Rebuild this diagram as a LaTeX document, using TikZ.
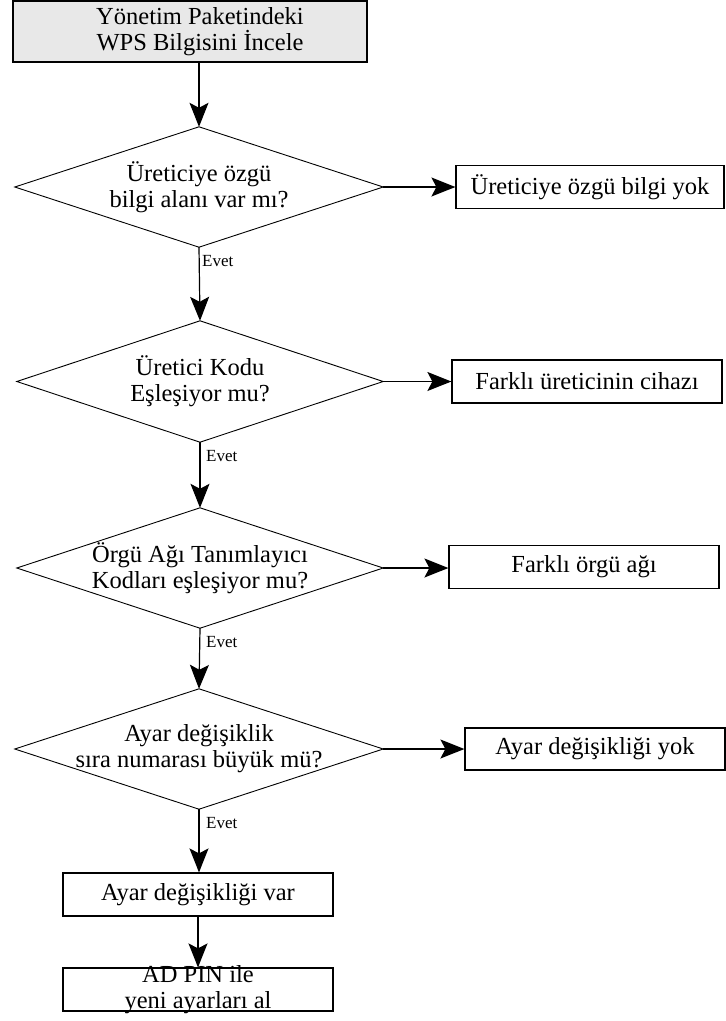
\documentclass[tikz,border=0pt]{standalone}
\usepackage{fontspec}
\setmainfont{Liberation Serif}
\usetikzlibrary{arrows.meta}
\definecolor{boxgray}{RGB}{232,232,232}
\begin{document}
\begin{tikzpicture}[x=1pt,y=-1pt,
  txt/.style={font=\fontsize{24.5}{26}\selectfont, align=center, inner sep=0pt},
  box/.style={txt, draw, line width=1.2pt, minimum height=43pt},
  decision/.style={txt, minimum width=368pt, minimum height=120pt},
  arr/.style={line width=1.2pt, -{Stealth[length=24pt,width=19pt,inset=5pt]}},
  evet/.style={font=\fontsize{17}{17}\selectfont, inner sep=0pt, anchor=base west}]
\useasboundingbox (0,0) rectangle (726,1021);

% start box
\node[box, fill=boxgray, minimum width=354pt, minimum height=61pt] (tb) at (190,31.5) {};
\node[txt] (tbt) at (200,32) {Yönetim Paketindeki\\WPS Bilgisini İncele};

% decisions (drawn as diamonds through the node anchors)
\node[decision] (d1) at (199,187) {Üreticiye özgü\\bilgi alanı var mı?};
\node[decision, minimum width=366pt, minimum height=121pt] (d2) at (200,381.5) {Üretici Kodu\\Eşleşiyor mu?};
\node[decision, minimum width=366pt] (d3) at (200,568) {Örgü Ağı Tanımlayıcı\\Kodları eşleşiyor mu?};
\node[decision] (d4) at (199,749) {Ayar değişiklik\\sıra numarası büyük mü?};
\foreach \d in {d1,d2,d3,d4}
  \draw[line width=0.9pt] (\d.west) -- (\d.north) -- (\d.east) -- (\d.south) -- cycle;

% outcome boxes
\node[box, minimum width=268pt] (b1) at (590,187) {Üreticiye özgü bilgi yok};
\node[box, minimum width=270pt] (b2) at (587,381.5) {Farklı üreticinin cihazı};
\node[box, minimum width=270pt] (b3) at (584,567) {Farklı örgü ağı};
\node[box, minimum width=260pt, minimum height=42pt] (b4) at (595,749) {Ayar değişikliği yok};
\node[box, minimum width=270pt] (b5) at (198,894.5) {Ayar değişikliği var};
\node[box, minimum width=270pt] (b6) at (198,989.5) {};
\node[txt] (b6t) at (198,990) {AD PIN ile\\yeni ayarları al};

% connectors
\draw[arr] (d1.north |- tb.south) -- (d1.north);
\draw[arr] (d1.south) -- (d2.north);
\draw[arr] (d2.south) -- (d3.north);
\draw[arr] (d3.south) -- (d4.north);
\draw[arr] (d4.south) -- (d4.south |- b5.north);
\draw[arr] (b5.south) -- (b6.north);
\draw[arr] (d1.east) -- (d1.east -| b1.west);
\draw[arr] (d2.east) -- (d2.east -| b2.west);
\draw[arr] (d3.east) -- (d3.east -| b3.west);
\draw[arr] (d4.east) -- (d4.east -| b4.west);

% yes labels
\node[evet] (e1) at (202,266) {Evet};
\node[evet] (e2) at (206,461.5) {Evet};
\node[evet] (e3) at (206,647.5) {Evet};
\node[evet] (e4) at (206,828.5) {Evet};
\end{tikzpicture}
\end{document}
